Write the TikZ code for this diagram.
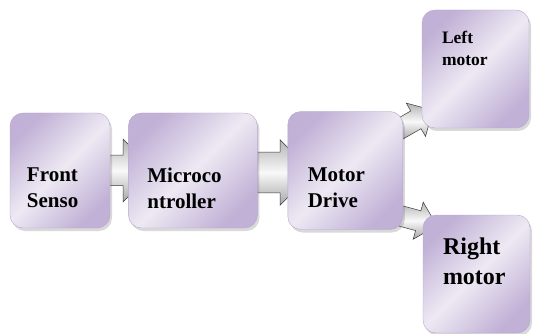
\documentclass[tikz,border=0pt]{standalone}
\usepackage{fontspec}
\setmainfont{Liberation Serif}
\usetikzlibrary{positioning,shapes.arrows,shadows,backgrounds}
\definecolor{lilaClaro}{HTML}{EDE9F3}
\definecolor{lilaOscuro}{HTML}{C1B1D6}
\definecolor{lilaBorde}{HTML}{B7A6CD}

\begin{document}
\begin{tikzpicture}[x=1pt,y=-1pt,
            node distance=18pt,
            bloque/.style={rounded corners=13pt, minimum width=100pt, minimum height=115pt, inner sep=0pt,
                draw=lilaBorde, line width=0.4pt, top color=lilaOscuro, bottom color=lilaOscuro,
                middle color=lilaClaro, shading angle=45,
                drop shadow={shadow xshift=2pt, shadow yshift=-3pt, opacity=0.25, fill=black!60}},
            etiqueta/.style={font=\bfseries\fontsize{21}{26}\selectfont, align=left, inner sep=0pt, anchor=north west},
            flecha/.style={single arrow, anchor=tail, inner xsep=0pt, minimum width=0pt,
                single arrow head indent=0pt, draw=gray!45!black, line width=0.5pt,
                top color=gray!60, bottom color=gray!70, middle color=gray!5}
        ]
\useasboundingbox (0,0) rectangle (533,334);

\node[bloque] (fs) at (60,170.5) {};
\node[bloque, minimum width=129pt, right=of fs] (mc) {};
\node[bloque, minimum width=115pt, minimum height=118pt, right=30pt of mc] (md) {};
\node[bloque, minimum width=107pt, minimum height=118pt] (lm) at (475.5,69) {};
\node[bloque, minimum width=107pt, minimum height=118pt] (rm) at (476.5,274) {};

\node[etiqueta] (tfs) at ([shift={(17,55)}]fs.north west) {Front\\Senso};
\node[etiqueta] (tmc) at ([shift={(19,55)}]mc.north west) {Microco\\ntroller};
\node[etiqueta] (tmd) at ([shift={(20,56)}]md.north west) {Motor\\Drive};
\node[etiqueta, font=\bfseries\fontsize{17.5}{22}\selectfont] (tlm) at ([shift={(20,21)}]lm.north west) {Left\\motor};
\node[etiqueta, font=\bfseries\fontsize{24}{30}\selectfont] (trm) at ([shift={(20,23)}]rm.north west) {Right\\motor};

\begin{scope}[on background layer]
\node[flecha, inner ysep=15pt, single arrow head extend=16pt, minimum height=49pt] (a1) at ([xshift=-5pt]fs.east) {};
\node[flecha, inner ysep=20pt, single arrow head extend=12.5pt, minimum height=60pt] (a2) at ([shift={(-5,2)}]mc.east) {};
\node[flecha, inner ysep=10pt, single arrow head extend=9pt, minimum height=42pt, rotate=30] (a3) at ([shift={(-7,20)}]md.north east) {};
\node[flecha, inner ysep=10pt, single arrow head extend=9pt, minimum height=42pt, rotate=-15] (a4) at ([shift={(-7,-15)}]md.south east) {};
\end{scope}
\end{tikzpicture}
\end{document}
